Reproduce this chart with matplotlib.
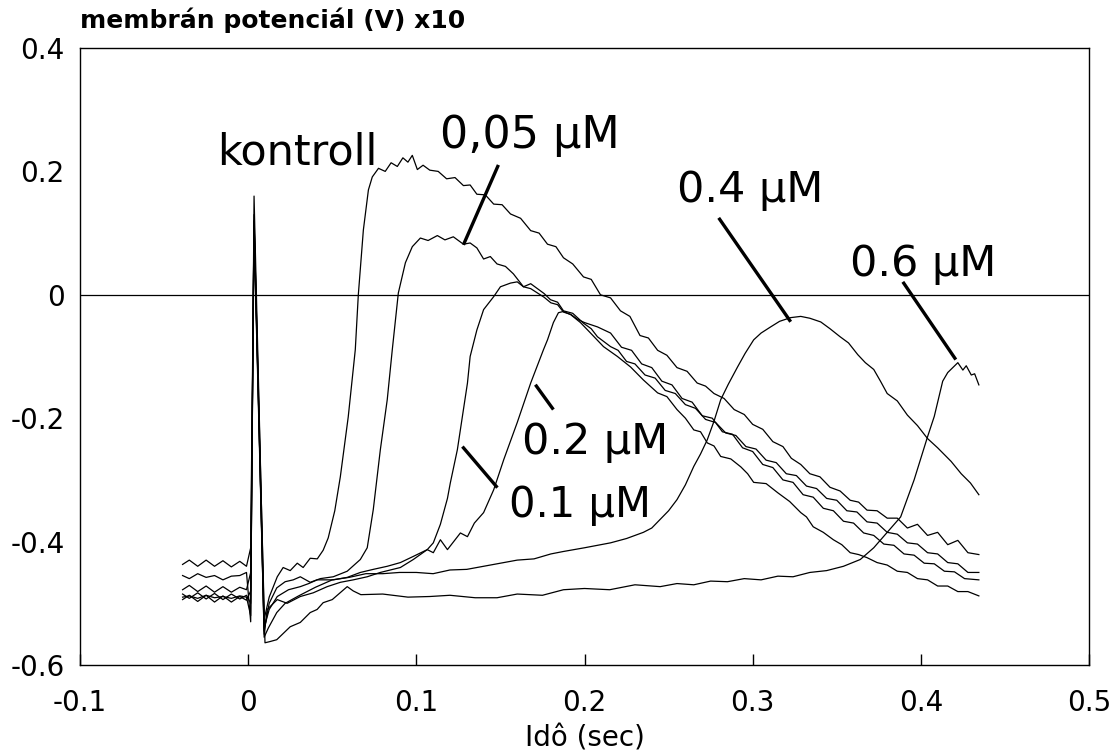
import matplotlib
matplotlib.use("Agg")
import matplotlib.pyplot as plt

# ---- traces: (time s, potential V x10) ----
kontroll = [
    (-0.039, -0.455), (-0.035, -0.46), (-0.03, -0.452), (-0.025, -0.458), (-0.02, -0.455),
    (-0.015, -0.462), (-0.01, -0.456), (-0.005, -0.455), (-0.001, -0.45),
    (0.0015, -0.53), (0.0035, 0.16), (0.0095, -0.526),
    (0.0125, -0.49), (0.0173, -0.457), (0.0208, -0.442), (0.025, -0.447), (0.0292, -0.435),
    (0.0327, -0.442), (0.0369, -0.427), (0.0411, -0.428), (0.0446, -0.414), (0.0476, -0.394),
    (0.0515, -0.35), (0.0548, -0.295), (0.0595, -0.198), (0.0637, -0.089), (0.0655, 0.0),
    (0.0685, 0.105), (0.0715, 0.17), (0.0738, 0.191), (0.0775, 0.205), (0.0815, 0.2),
    (0.085, 0.214), (0.0887, 0.208), (0.092, 0.222), (0.095, 0.215), (0.0976, 0.226),
    (0.1006, 0.203), (0.104, 0.21), (0.108, 0.202), (0.113, 0.2), (0.118, 0.188),
    (0.123, 0.19), (0.128, 0.177), (0.132, 0.178), (0.136, 0.163), (0.141, 0.162),
    (0.146, 0.147), (0.151, 0.146), (0.156, 0.131), (0.162, 0.124), (0.168, 0.104),
    (0.173, 0.1), (0.178, 0.082), (0.183, 0.078), (0.1875, 0.06), (0.193, 0.05),
    (0.1994, 0.029), (0.204, 0.025), (0.2095, 0.0), (0.2155, -0.005), (0.2214, -0.026),
    (0.227, -0.035), (0.233, -0.066), (0.238, -0.07), (0.2435, -0.09), (0.249, -0.098),
    (0.255, -0.118), (0.261, -0.124), (0.267, -0.143), (0.272, -0.148), (0.277, -0.16),
    (0.283, -0.168), (0.289, -0.186), (0.295, -0.194), (0.300, -0.21), (0.306, -0.218),
    (0.312, -0.238), (0.318, -0.246), (0.323, -0.265), (0.3286, -0.275), (0.334, -0.29),
    (0.340, -0.295), (0.346, -0.312), (0.352, -0.318), (0.358, -0.333), (0.363, -0.336),
    (0.368, -0.349), (0.374, -0.35), (0.380, -0.362), (0.386, -0.362), (0.392, -0.378),
    (0.398, -0.372), (0.404, -0.39), (0.410, -0.385), (0.416, -0.405), (0.422, -0.398),
    (0.428, -0.418), (0.4345, -0.421),
]

conc_005 = [
    (-0.039, -0.437), (-0.035, -0.43), (-0.03, -0.44), (-0.025, -0.43), (-0.02, -0.44),
    (-0.015, -0.431), (-0.01, -0.441), (-0.005, -0.432), (-0.001, -0.44),
    (0.0015, -0.41), (0.0035, 0.12), (0.0095, -0.545),
    (0.0125, -0.5), (0.017, -0.475), (0.022, -0.465), (0.0268, -0.462), (0.031, -0.457),
    (0.0369, -0.466), (0.0429, -0.46), (0.0506, -0.457), (0.0589, -0.448), (0.0667, -0.429),
    (0.0708, -0.41), (0.0744, -0.348), (0.0786, -0.251), (0.0827, -0.17), (0.0857, -0.089),
    (0.0893, 0.003), (0.0935, 0.052), (0.0976, 0.078), (0.1024, 0.092), (0.107, 0.088),
    (0.1125, 0.096), (0.117, 0.089), (0.122, 0.094), (0.128, 0.082), (0.132, 0.084),
    (0.136, 0.076), (0.14, 0.058), (0.144, 0.062), (0.148, 0.05), (0.153, 0.046),
    (0.1577, 0.034), (0.1637, 0.013), (0.168, 0.018), (0.172, 0.01), (0.176, 0.002),
    (0.1798, -0.008), (0.184, -0.012), (0.1875, -0.026), (0.193, -0.03), (0.1994, -0.046),
    (0.204, -0.055), (0.2077, -0.068), (0.2155, -0.084), (0.22, -0.09), (0.225, -0.108),
    (0.23, -0.112), (0.236, -0.13), (0.242, -0.135), (0.248, -0.155), (0.254, -0.16),
    (0.26, -0.178), (0.266, -0.184), (0.272, -0.202), (0.278, -0.207), (0.284, -0.224),
    (0.29, -0.228), (0.296, -0.246), (0.302, -0.25), (0.308, -0.268), (0.314, -0.272),
    (0.32, -0.29), (0.326, -0.293), (0.332, -0.31), (0.338, -0.314), (0.344, -0.33),
    (0.35, -0.333), (0.356, -0.35), (0.362, -0.352), (0.368, -0.368), (0.374, -0.37),
    (0.38, -0.385), (0.386, -0.388), (0.392, -0.402), (0.398, -0.404), (0.404, -0.418),
    (0.41, -0.42), (0.416, -0.434), (0.422, -0.436), (0.428, -0.45), (0.4345, -0.45),
]

conc_01 = [
    (-0.039, -0.478), (-0.035, -0.471), (-0.03, -0.481), (-0.025, -0.472), (-0.02, -0.482),
    (-0.015, -0.473), (-0.01, -0.482), (-0.005, -0.474), (-0.001, -0.478),
    (0.0015, -0.45), (0.0035, 0.11), (0.0095, -0.54),
    (0.0125, -0.51), (0.0173, -0.489), (0.024, -0.478), (0.031, -0.473), (0.036, -0.468),
    (0.041, -0.462), (0.0506, -0.462), (0.0589, -0.458), (0.0667, -0.45), (0.0744, -0.445),
    (0.0827, -0.44), (0.0905, -0.434), (0.0982, -0.424), (0.1065, -0.413), (0.1101, -0.402),
    (0.1143, -0.372), (0.1185, -0.33), (0.1202, -0.305), (0.1244, -0.251), (0.1274, -0.197),
    (0.1304, -0.143), (0.132, -0.1), (0.136, -0.057), (0.14, -0.024), (0.146, -0.003),
    (0.15, 0.013), (0.156, 0.019), (0.16, 0.021), (0.1637, 0.013), (0.168, 0.01),
    (0.172, 0.003), (0.176, -0.004), (0.18, -0.013), (0.184, -0.016), (0.1875, -0.028),
    (0.192, -0.032), (0.196, -0.04), (0.2, -0.045), (0.2077, -0.052), (0.2155, -0.062),
    (0.222, -0.085), (0.228, -0.09), (0.234, -0.112), (0.24, -0.118), (0.246, -0.14),
    (0.252, -0.146), (0.258, -0.168), (0.264, -0.174), (0.27, -0.196), (0.276, -0.2),
    (0.282, -0.222), (0.288, -0.226), (0.294, -0.248), (0.3, -0.254), (0.306, -0.275),
    (0.312, -0.28), (0.318, -0.3), (0.324, -0.304), (0.33, -0.324), (0.336, -0.328),
    (0.342, -0.346), (0.348, -0.35), (0.354, -0.367), (0.36, -0.37), (0.366, -0.386),
    (0.372, -0.39), (0.378, -0.404), (0.384, -0.406), (0.39, -0.42), (0.396, -0.422),
    (0.402, -0.435), (0.408, -0.436), (0.414, -0.448), (0.42, -0.449), (0.426, -0.46),
    (0.4345, -0.462),
]

conc_02 = [
    (-0.039, -0.485), (-0.035, -0.492), (-0.03, -0.483), (-0.025, -0.493), (-0.02, -0.484),
    (-0.015, -0.494), (-0.01, -0.485), (-0.005, -0.493), (-0.001, -0.487),
    (0.0015, -0.5), (0.0035, 0.1), (0.0095, -0.55),
    (0.0113, -0.51), (0.0173, -0.494), (0.0232, -0.5), (0.031, -0.489), (0.0387, -0.483),
    (0.047, -0.473), (0.0548, -0.466), (0.0625, -0.462), (0.0708, -0.457), (0.0786, -0.45),
    (0.0905, -0.442), (0.0982, -0.429), (0.1065, -0.413), (0.1101, -0.418), (0.1143, -0.397),
    (0.1185, -0.413), (0.1262, -0.386), (0.1304, -0.392), (0.1345, -0.37), (0.14, -0.353),
    (0.146, -0.316), (0.152, -0.267), (0.16, -0.207), (0.168, -0.143), (0.1756, -0.089),
    (0.178, -0.073), (0.1815, -0.045), (0.1845, -0.029), (0.1875, -0.027), (0.1917, -0.032),
    (0.1976, -0.045), (0.2036, -0.062), (0.2113, -0.084), (0.2196, -0.1), (0.2274, -0.117),
    (0.235, -0.138), (0.2435, -0.159), (0.249, -0.165), (0.255, -0.186), (0.26, -0.2),
    (0.265, -0.219), (0.269, -0.222), (0.273, -0.24), (0.277, -0.245), (0.281, -0.262),
    (0.287, -0.266), (0.293, -0.279), (0.297, -0.29), (0.3006, -0.304), (0.308, -0.306),
    (0.315, -0.321), (0.322, -0.335), (0.3286, -0.353), (0.332, -0.36), (0.336, -0.376),
    (0.342, -0.385), (0.348, -0.397), (0.353, -0.405), (0.358, -0.418), (0.363, -0.421),
    (0.368, -0.426), (0.374, -0.434), (0.38, -0.438), (0.386, -0.448), (0.392, -0.45),
    (0.398, -0.46), (0.404, -0.462), (0.41, -0.472), (0.416, -0.472), (0.422, -0.481),
    (0.428, -0.481), (0.4345, -0.488),
]

conc_04 = [
    (-0.039, -0.49), (-0.035, -0.488), (-0.03, -0.492), (-0.025, -0.487), (-0.02, -0.491),
    (-0.015, -0.489), (-0.01, -0.492), (-0.005, -0.488), (-0.001, -0.49),
    (0.0015, -0.52), (0.0035, 0.13), (0.0095, -0.555),
    (0.012, -0.54), (0.017, -0.515), (0.022, -0.5), (0.03, -0.488), (0.04, -0.474),
    (0.05, -0.462), (0.06, -0.458), (0.07, -0.452), (0.08, -0.452), (0.09, -0.45),
    (0.1, -0.45), (0.11, -0.452), (0.12, -0.446), (0.13, -0.445), (0.14, -0.44),
    (0.148, -0.436), (0.16, -0.43), (0.17, -0.428), (0.18, -0.42), (0.1875, -0.416),
    (0.2, -0.41), (0.2155, -0.402), (0.225, -0.395), (0.235, -0.385), (0.24, -0.378),
    (0.245, -0.364), (0.25, -0.35), (0.255, -0.332), (0.26, -0.308), (0.265, -0.278),
    (0.269, -0.258), (0.273, -0.235), (0.277, -0.205), (0.281, -0.17), (0.2855, -0.145),
    (0.291, -0.117), (0.2955, -0.095), (0.3006, -0.073), (0.305, -0.062), (0.3107, -0.052),
    (0.316, -0.043), (0.3226, -0.037), (0.3286, -0.035), (0.334, -0.038), (0.3405, -0.044),
    (0.346, -0.055), (0.352, -0.068), (0.357, -0.078), (0.3625, -0.097), (0.367, -0.11),
    (0.372, -0.121), (0.376, -0.14), (0.38, -0.16), (0.386, -0.172), (0.392, -0.195),
    (0.398, -0.212), (0.404, -0.233), (0.41, -0.248), (0.418, -0.27), (0.424, -0.29),
    (0.4295, -0.305), (0.4345, -0.324),
]

conc_06 = [
    (-0.039, -0.494), (-0.035, -0.487), (-0.03, -0.497), (-0.025, -0.487), (-0.02, -0.498),
    (-0.015, -0.488), (-0.01, -0.498), (-0.005, -0.489), (-0.001, -0.495),
    (0.0015, -0.48), (0.0035, 0.12), (0.01, -0.564),
    (0.013, -0.562), (0.017, -0.559), (0.025, -0.538), (0.031, -0.531), (0.0369, -0.515),
    (0.041, -0.51), (0.0446, -0.499), (0.05, -0.494), (0.0589, -0.473), (0.0625, -0.48),
    (0.067, -0.486), (0.08, -0.485), (0.095, -0.49), (0.108, -0.489), (0.12, -0.487),
    (0.135, -0.491), (0.148, -0.491), (0.16, -0.485), (0.175, -0.487), (0.1875, -0.478),
    (0.2, -0.476), (0.215, -0.478), (0.23, -0.47), (0.245, -0.473), (0.255, -0.468),
    (0.265, -0.47), (0.275, -0.464), (0.285, -0.465), (0.295, -0.46), (0.305, -0.462),
    (0.315, -0.456), (0.324, -0.457), (0.334, -0.45), (0.344, -0.447), (0.354, -0.44),
    (0.364, -0.429), (0.372, -0.41), (0.38, -0.385), (0.388, -0.36), (0.396, -0.3),
    (0.404, -0.23), (0.408, -0.197), (0.413, -0.14), (0.416, -0.126), (0.419, -0.118),
    (0.422, -0.11), (0.425, -0.122), (0.427, -0.115), (0.43, -0.13), (0.432, -0.128),
    (0.4345, -0.146),
]

traces = [kontroll, conc_005, conc_01, conc_02, conc_04, conc_06]

# labels: text, baseline-left position, font size, pointer segment
label_texts = ["kontroll", "0,05 µM", "0.4 µM", "0.6 µM", "0.2 µM", "0.1 µM"]
label_pos = [(-0.0185, 0.2105), (0.114, 0.238), (0.255, 0.1506), (0.358, 0.031),
             (0.163, -0.2575), (0.155, -0.3595)]
label_size = [31, 32, 31, 31, 31, 30]
pointers = [None, (0.1488, 0.2105, 0.128, 0.081), (0.2798, 0.1247, 0.3226, -0.0437),
            (0.3893, 0.021, 0.4208, -0.105), (0.1708, -0.1457, 0.1815, -0.186),
            (0.1274, -0.246, 0.1482, -0.3126)]

fig = plt.figure(figsize=(11.11, 7.52), dpi=100)
ax = fig.add_axes([80 / 1111, 1 - 665 / 752, 1009 / 1111, 617 / 752])

for tr in traces:
    t = [p[0] for p in tr]
    v = [p[1] for p in tr]
    ax.plot(t, v, color="black", lw=0.9)

ax.axhline(0, color="black", lw=0.9)

for txt, (lx, ly), fs in zip(label_texts, label_pos, label_size):
    ax.text(lx, ly, txt, fontsize=fs, ha="left", va="baseline", color="black")

for p in pointers:
    if p is None:
        continue
    ax.plot([p[0], p[2]], [p[1], p[3]], color="black", lw=2.4, solid_capstyle="butt")

ax.set_xlim(-0.1, 0.5)
ax.set_ylim(-0.6, 0.4)
ax.set_xticks([-0.1, 0, 0.1, 0.2, 0.3, 0.4, 0.5])
ax.set_xticklabels(["-0.1", "0", "0.1", "0.2", "0.3", "0.4", "0.5"])
ax.set_yticks([-0.6, -0.4, -0.2, 0, 0.2, 0.4])
ax.set_yticklabels(["-0.6", "-0.4", "-0.2", "0", "0.2", "0.4"])
ax.tick_params(axis="x", direction="in", length=8, width=1, pad=17, labelsize=20)
ax.tick_params(axis="y", length=0, pad=11, labelsize=20)
for s in ax.spines.values():
    s.set_linewidth(1.0)

ax.set_xlabel("Idô (sec)", fontsize=20, labelpad=6)
fig.text(80 / 1111, 1 - 28 / 752, "membrán potenciál (V) x10", fontsize=18,
         fontweight="bold", ha="left", va="baseline")

fig.savefig("out.png", dpi=100)
